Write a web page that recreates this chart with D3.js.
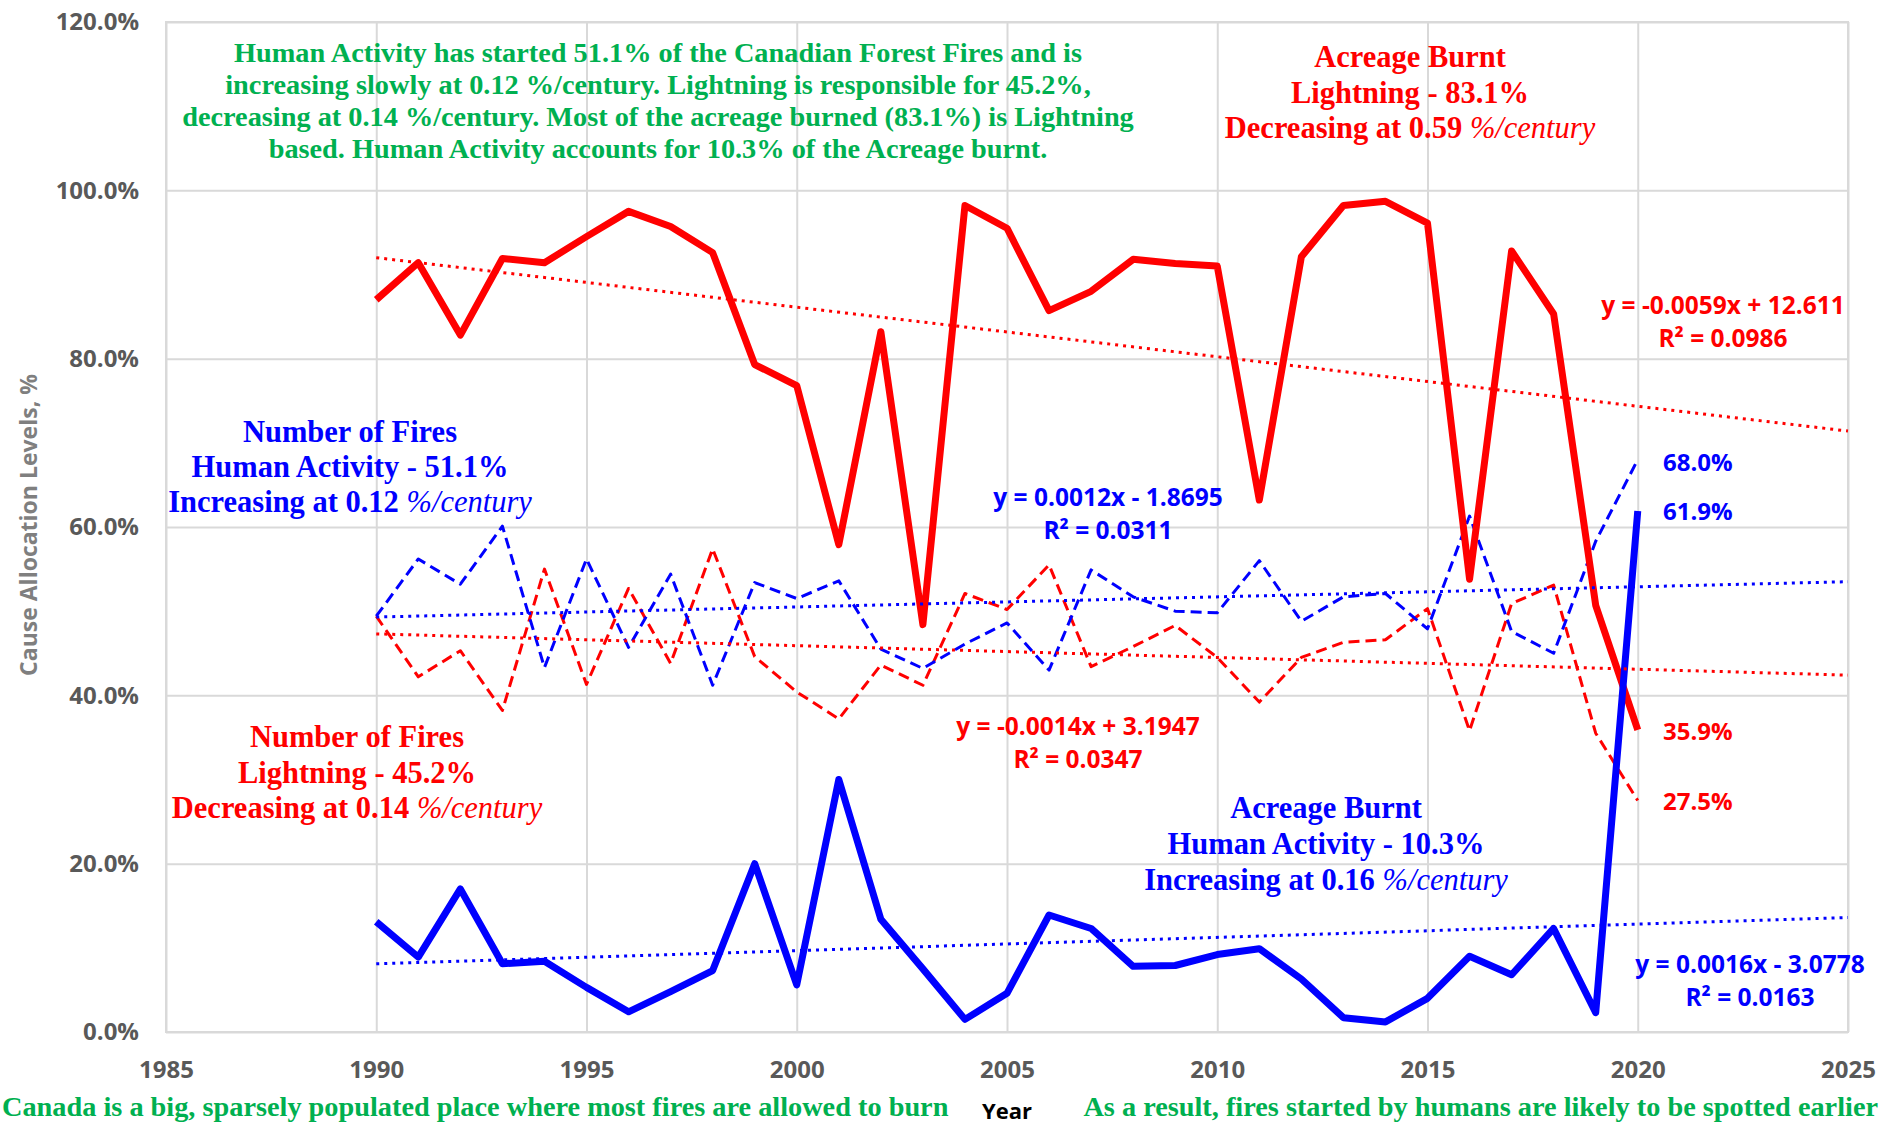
<!DOCTYPE html>
<html>
<head>
<meta charset="utf-8">
<script src="https://cdn.jsdelivr.net/npm/d3@7"></script>
<style>
    body { margin: 0; background: #fff; }
    svg { display: block; }
</style>
</head>
<body>
<div id="chart"></div>
<script>
// Canadian forest fires, cause allocation in %
const years = [1990, 1991, 1992, 1993, 1994, 1995, 1996, 1997, 1998, 1999,
    2000, 2001, 2002, 2003, 2004, 2005, 2006, 2007, 2008, 2009,
    2010, 2011, 2012, 2013, 2014, 2015, 2016, 2017, 2018, 2019, 2020];

const acreLightning = [87.0, 91.4, 82.8, 91.9, 91.4, 94.5, 97.5, 95.7, 92.6, 79.3,
    76.8, 57.9, 83.2, 48.4, 98.2, 95.5, 85.7, 88.0, 91.8, 91.3,
    91.0, 63.2, 92.1, 98.2, 98.7, 96.1, 53.8, 92.8, 85.3, 50.7, 35.9];
const acreHuman = [13.1, 8.9, 17.0, 8.1, 8.4, 5.3, 2.4, 4.8, 7.3, 20.0,
    5.6, 30.0, 13.4, 7.5, 1.5, 4.6, 13.9, 12.3, 7.8, 7.9,
    9.2, 9.9, 6.3, 1.7, 1.2, 4.0, 9.0, 6.8, 12.3, 2.3, 61.9];
const firesLightning = [49.4, 42.2, 45.3, 38.2, 55.0, 41.3, 52.7, 43.8, 57.4, 44.6,
    40.4, 37.2, 43.6, 41.2, 52.1, 50.2, 55.5, 43.4, 45.8, 48.3,
    44.5, 39.2, 44.5, 46.3, 46.6, 50.3, 35.8, 50.9, 53.1, 35.5, 27.5];
const firesHuman = [49.4, 56.2, 53.2, 60.1, 43.3, 56.2, 45.7, 54.4, 41.2, 53.4,
    51.5, 53.6, 45.5, 43.2, 46.1, 48.6, 43.0, 54.9, 51.7, 50.0,
    49.8, 56.0, 48.8, 51.7, 52.1, 47.9, 61.3, 47.6, 45.0, 58.3, 68.0];

// linear trendlines, value at start and end year
const trendYears = [1990, 2025];
const acreLightningTrend = [92.0, 71.4];
const acreHumanTrend = [8.1, 13.6];
const firesLightningTrend = [47.3, 42.4];
const firesHumanTrend = [49.3, 53.5];

const xTicks = [1985, 1990, 1995, 2000, 2005, 2010, 2015, 2020, 2025];
const yTicks = [0, 20, 40, 60, 80, 100, 120];

const equations = [
    { lines: ['y = -0.0059x + 12.611', 'R² = 0.0986'], color: '#ff0000', cx: 1723, cy: 305 },
    { lines: ['y = 0.0012x - 1.8695', 'R² = 0.0311'], color: '#0000ff', cx: 1108, cy: 497 },
    { lines: ['y = -0.0014x + 3.1947', 'R² = 0.0347'], color: '#ff0000', cx: 1078, cy: 726 },
    { lines: ['y = 0.0016x - 3.0778', 'R² = 0.0163'], color: '#0000ff', cx: 1750, cy: 964 }
];

const endLabels = [
    { text: '68.0%', color: '#0000ff', cy: 462 },
    { text: '61.9%', color: '#0000ff', cy: 511 },
    { text: '35.9%', color: '#ff0000', cy: 731 },
    { text: '27.5%', color: '#ff0000', cy: 801 }
];

const width = 1888;
const height = 1124;
const plot = { left: 166, right: 1848, top: 22, bottom: 1032 };

const red = '#ff0000';
const blue = '#0000ff';
const green = '#00b050';

const svg = d3.select('#chart')
    .append('svg')
    .attr('width', width)
    .attr('height', height);

svg.append('rect')
    .attr('width', width)
    .attr('height', height)
    .attr('fill', '#fff');

const x = d3.scaleLinear().domain([1985, 2025]).range([plot.left, plot.right]);
const y = d3.scaleLinear().domain([0, 120]).range([plot.bottom, plot.top]);

// gridlines + tick labels
const yAxis = svg.append('g')
    .attr('transform', `translate(${plot.left},0)`)
    .call(d3.axisLeft(y)
        .tickValues(yTicks)
        .tickSize(-(plot.right - plot.left))
        .tickPadding(27)
        .tickFormat(d => d.toFixed(1) + '%'));

const xAxis = svg.append('g')
    .attr('transform', `translate(0,${plot.bottom})`)
    .call(d3.axisBottom(x)
        .tickValues(xTicks)
        .tickSize(-(plot.bottom - plot.top))
        .tickPadding(29)
        .tickFormat(d3.format('d')));

[xAxis, yAxis].forEach(ax => {
    ax.select('.domain').remove();
    ax.selectAll('.tick line')
        .attr('stroke', '#d9d9d9')
        .attr('stroke-width', 2);
    ax.selectAll('.tick text')
        .attr('fill', '#595959')
        .style('font-family', '"Open Sans", sans-serif')
        .style('font-weight', 'bold')
        .style('font-size', '24px');
});

svg.append('rect')
    .attr('x', plot.left)
    .attr('y', plot.top)
    .attr('width', plot.right - plot.left)
    .attr('height', plot.bottom - plot.top)
    .attr('fill', 'none')
    .attr('stroke', '#d9d9d9')
    .attr('stroke-width', 2);

// axis titles
svg.append('text')
    .attr('transform', 'translate(37,525) rotate(-90)')
    .attr('text-anchor', 'middle')
    .attr('fill', '#7f7f7f')
    .style('font-family', '"Open Sans", sans-serif')
    .style('font-weight', 'bold')
    .style('font-size', '23px')
    .text('Cause Allocation Levels, %');

svg.append('text')
    .attr('x', 1007)
    .attr('y', 1119)
    .attr('text-anchor', 'middle')
    .attr('fill', '#000')
    .style('font-family', '"Open Sans", sans-serif')
    .style('font-weight', 'bold')
    .style('font-size', '22px')
    .text('Year');

// series
const line = d3.line()
    .x((d, i) => x(years[i]))
    .y(d => y(d));

const trendLine = d3.line()
    .x((d, i) => x(trendYears[i]))
    .y(d => y(d));

function drawSeries(values, color, widthPx, dash) {
    svg.append('path')
        .datum(values)
        .attr('d', line)
        .attr('fill', 'none')
        .attr('stroke', color)
        .attr('stroke-width', widthPx)
        .attr('stroke-linejoin', 'round')
        .attr('stroke-dasharray', dash);
}

drawSeries(firesLightning, red, 3, '11,6');
drawSeries(firesHuman, blue, 3, '11,6');
drawSeries(acreLightning, red, 7, null);
drawSeries(acreHuman, blue, 7, null);

[[acreLightningTrend, red], [acreHumanTrend, blue], [firesLightningTrend, red], [firesHumanTrend, blue]]
    .forEach(([vals, color]) => {
        svg.append('path')
            .datum(vals)
            .attr('d', trendLine)
            .attr('fill', 'none')
            .attr('stroke', color)
            .attr('stroke-width', 3)
            .attr('stroke-dasharray', '3,5');
    });

// trend equations
equations.forEach(eq => {
    const t = svg.append('text')
        .attr('text-anchor', 'middle')
        .attr('fill', eq.color)
        .style('font-family', '"Open Sans", sans-serif')
        .style('font-weight', 'bold')
        .style('font-size', '24.5px');
    eq.lines.forEach((s, i) => {
        t.append('tspan')
            .attr('x', eq.cx)
            .attr('y', eq.cy + 8.5 + i * 33)
            .text(s);
    });
});

endLabels.forEach(l => {
    svg.append('text')
        .attr('x', 1663)
        .attr('y', l.cy + 8.5)
        .attr('fill', l.color)
        .style('font-family', '"Open Sans", sans-serif')
        .style('font-weight', 'bold')
        .style('font-size', '24px')
        .text(l.text);
});

// serif annotation blocks; a segment in an array is italic
function block(lines, cx, baseline, step, color, size) {
    const t = svg.append('text')
        .attr('text-anchor', 'middle')
        .attr('fill', color)
        .style('font-family', '"Liberation Serif", "Times New Roman", serif')
        .style('font-weight', 'bold')
        .style('font-size', size + 'px');
    lines.forEach((ln, i) => {
        const parts = Array.isArray(ln) ? ln : [ln];
        parts.forEach((p, j) => {
            const ts = t.append('tspan').text(p);
            if (j === 0) ts.attr('x', cx).attr('y', baseline + i * step);
            if (j === 1) ts.style('font-style', 'italic').style('font-weight', 'normal');
        });
    });
}

block([
    'Human Activity has started 51.1% of the Canadian Forest Fires and is',
    'increasing slowly at 0.12 %/century. Lightning is responsible for 45.2%,',
    'decreasing at 0.14 %/century. Most of the acreage burned (83.1%) is Lightning',
    'based. Human Activity accounts for 10.3% of the Acreage burnt.'
], 658, 62, 32, green, 28.3);

block(['Acreage Burnt', 'Lightning - 83.1%', ['Decreasing at 0.59 ', '%/century']],
    1410, 67, 35.5, red, 30.5);
block(['Number of Fires', 'Human Activity - 51.1%', ['Increasing at 0.12 ', '%/century']],
    350, 442, 35, blue, 30.5);
block(['Number of Fires', 'Lightning - 45.2%', ['Decreasing at 0.14 ', '%/century']],
    357, 747, 35.5, red, 30.5);
block(['Acreage Burnt', 'Human Activity - 10.3%', ['Increasing at 0.16 ', '%/century']],
    1326, 818, 36, blue, 30.5);

// notes under the axis
svg.append('text')
    .attr('x', 2)
    .attr('y', 1116)
    .attr('fill', green)
    .style('font-family', '"Liberation Serif", "Times New Roman", serif')
    .style('font-weight', 'bold')
    .style('font-size', '28.3px')
    .text('Canada is a big, sparsely populated place where most fires are allowed to burn');

svg.append('text')
    .attr('x', 1878)
    .attr('y', 1116)
    .attr('text-anchor', 'end')
    .attr('fill', green)
    .style('font-family', '"Liberation Serif", "Times New Roman", serif')
    .style('font-weight', 'bold')
    .style('font-size', '28.3px')
    .text('As a result, fires started by humans are likely to be spotted earlier');
</script>
</body>
</html>
